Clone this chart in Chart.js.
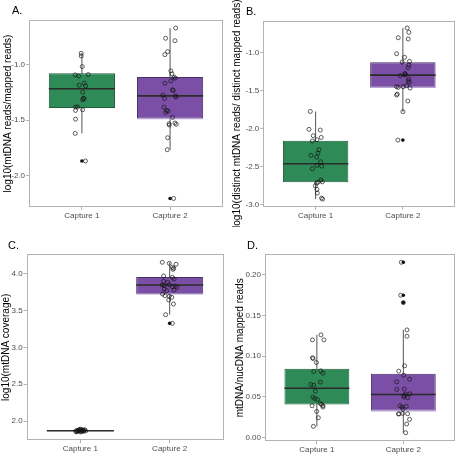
<!DOCTYPE html>
<html>
<head>
<meta charset="utf-8">
<script src="https://cdn.jsdelivr.net/npm/chart.js@4.4.0/dist/chart.umd.min.js"></script>
<style>
  body { margin: 0; background: #fff; }
  #wrap { position: relative; width: 460px; height: 454px; }
  canvas { position: absolute; }
</style>
</head>
<body>
<div id="wrap">
  <canvas id="cA" width="230" height="227" style="left:0;top:0"></canvas>
  <canvas id="cB" width="230" height="227" style="left:230px;top:0"></canvas>
  <canvas id="cC" width="230" height="227" style="left:0;top:227px"></canvas>
  <canvas id="cD" width="230" height="227" style="left:230px;top:227px"></canvas>
</div>
<script>
const categories = ["Capture 1", "Capture 2"];

// A. log10(mtDNA reads/mapped reads)
const aVals1 = [-0.895, -0.919, -1.015, -1.090, -1.100, -1.087, -1.183, -1.165, -1.190, -1.246, -1.300, -1.315, -1.306, -1.381, -1.411, -1.380, -1.405, -1.490, -1.619, -1.868];
const aJitter1 = [-0.008, -0.008, 0.004, -0.076, -0.038, 0.072, -0.030, 0.027, 0.042, 0.008, 0.019, 0.008, 0.023, -0.072, -0.072, -0.049, 0.008, -0.072, -0.076, 0.040];
const aVals2 = [-0.667, -0.759, -0.781, -0.880, -0.907, -1.054, -1.081, -1.111, -1.120, -1.165, -1.144, -1.225, -1.231, -1.273, -1.303, -1.279, -1.291, -1.381, -1.411, -1.417, -1.430, -1.474, -1.532, -1.543, -1.525, -1.537, -1.658, -1.766, -2.207];
const aJitter2 = [0.063, -0.051, 0.055, -0.028, -0.059, 0.009, 0.021, 0.047, 0.059, -0.059, 0.009, 0.028, 0.036, -0.081, -0.063, 0.063, 0.066, -0.070, -0.040, -0.025, -0.051, 0.028, -0.013, -0.009, 0.055, 0.070, -0.028, -0.032, 0.040];
// lower whisker, q1, median, q3, upper whisker
const aBox1 = [-1.619, -1.390, -1.216, -1.075, -0.895];
const aBox2 = [-1.766, -1.485, -1.280, -1.110, -0.667];
const aOutliers1 = [-1.868];
const aOutliers2 = [-2.207];
const aTicks = [-2.0, -1.5, -1.0];

// B. log10(distinct mtDNA reads/ distinct mapped reads)
const bVals1 = [-1.777, -2.013, -2.022, -2.097, -2.119, -2.167, -2.150, -2.280, -2.325, -2.356, -2.378, -2.439, -2.531, -2.487, -2.496, -2.680, -2.703, -2.707, -2.720, -2.755, -2.803, -2.851, -2.917, -2.930];
const bJitter1 = [-0.061, -0.076, 0.053, -0.027, 0.064, -0.038, 0.015, 0.038, 0.027, -0.053, 0.011, 0.057, -0.038, 0.015, 0.068, 0.061, 0.076, 0.027, 0.011, -0.004, 0.015, 0.019, 0.068, 0.080];
const bVals2 = [-0.680, -0.737, -0.808, -0.825, -1.018, -1.066, -1.128, -1.119, -1.167, -1.202, -1.277, -1.290, -1.307, -1.298, -1.351, -1.377, -1.395, -1.452, -1.461, -1.452, -1.439, -1.470, -1.549, -1.561, -1.640, -1.781, -2.154];
const bJitter2 = [0.049, 0.068, -0.053, 0.061, -0.072, 0.019, -0.008, 0.076, 0.068, 0.061, 0.023, 0.030, -0.030, 0.019, 0.068, 0.061, 0.076, -0.072, -0.053, 0.004, 0.042, 0.083, -0.064, -0.072, 0.057, 0.000, -0.057];
const bBox1 = [-2.930, -2.707, -2.466, -2.163, -1.777];
const bBox2 = [-1.781, -1.461, -1.300, -1.132, -0.680];
const bOutliers1 = [];
const bOutliers2 = [-2.154];
const bTicks = [-3.0, -2.5, -2.0, -1.5, -1.0];

// C. log10(mtDNA coverage)
const cVals1 = [1.860, 1.870, 1.880, 1.890, 1.875, 1.865, 1.882, 1.872, 1.886, 1.858, 1.876, 1.868, 1.879, 1.871, 1.893, 1.864, 1.874, 1.881, 1.855, 1.869];
const cJitter1 = [-0.05, -0.03, -0.02, -0.01, 0.00, 0.01, 0.02, 0.03, 0.05, -0.04, -0.015, 0.015, 0.04, -0.025, 0.005, 0.035, -0.045, 0.025, 0.0, 0.06];
const cVals2 = [4.149, 4.135, 4.122, 4.081, 4.068, 4.054, 3.964, 3.946, 3.923, 3.892, 3.878, 3.842, 3.833, 3.846, 3.819, 3.824, 3.811, 3.788, 3.765, 3.774, 3.720, 3.698, 3.689, 3.676, 3.639, 3.585, 3.441, 3.324];
const cJitter2 = [-0.083, -0.004, 0.072, 0.030, 0.045, 0.038, -0.068, 0.030, 0.049, -0.068, -0.023, -0.083, -0.061, -0.004, 0.030, 0.061, 0.083, -0.061, -0.034, 0.049, -0.080, -0.053, -0.004, 0.023, -0.011, 0.042, -0.045, 0.030];
const cBox1 = [1.855, 1.866, 1.872, 1.878, 1.893];
const cBox2 = [3.441, 3.722, 3.842, 3.950, 4.149];
const cOutliers1 = [];
const cOutliers2 = [3.324];
const cTicks = [2.0, 2.5, 3.0, 3.5, 4.0];

// D. mtDNA/nucDNA mapped reads
const dVals1 = [0.1261, 0.1200, 0.1200, 0.0980, 0.0971, 0.0922, 0.0812, 0.0820, 0.0792, 0.0653, 0.0645, 0.0682, 0.0571, 0.0498, 0.0481, 0.0469, 0.0420, 0.0408, 0.0392, 0.0376, 0.0392, 0.0322, 0.0245, 0.0139];
const dJitter1 = [0.047, -0.051, 0.081, -0.051, -0.044, -0.006, -0.036, 0.044, 0.070, -0.070, -0.036, 0.040, -0.017, -0.047, -0.025, 0.006, 0.040, 0.055, 0.070, 0.070, -0.055, -0.002, 0.017, -0.040];
const dVals2 = [0.2151, 0.1747, 0.1657, 0.1322, 0.1245, 0.0882, 0.0816, 0.0767, 0.0718, 0.0686, 0.0596, 0.0592, 0.0539, 0.0535, 0.0518, 0.0498, 0.0490, 0.0392, 0.0376, 0.0384, 0.0351, 0.0294, 0.0298, 0.0294, 0.0290, 0.0225, 0.0168, 0.0061];
const dJitter2 = [-0.023, -0.030, 0.000, 0.042, 0.042, 0.015, -0.053, 0.004, 0.072, -0.076, 0.011, -0.076, 0.076, 0.027, 0.008, 0.008, 0.049, -0.038, -0.015, 0.034, -0.004, -0.049, -0.008, 0.049, -0.057, 0.072, 0.038, 0.027];
const dBox1 = [0.0139, 0.0408, 0.0606, 0.0845, 0.1261];
const dBox2 = [0.0061, 0.0331, 0.0530, 0.0784, 0.1322];
const dOutliers1 = [];
const dOutliers2 = [0.2151, 0.1747, 0.1657];
const dTicks = [0, 0.05, 0.10, 0.15, 0.20];

Chart.defaults.font.family = "'Liberation Sans', Arial, sans-serif";

const boxFill = ["#2e8b57", "#7b4fa6"];
const boxEdge = ["#1f5c3a", "#4a2e68"];
const HALF = 0.375; // half box width in category units

// panel frame + letter
const panelDeco = {
  id: "panelDeco",
  afterDatasetsDraw(chart, args, opts) {
    const a = chart.chartArea;
    const ctx = chart.ctx;
    ctx.save();
    ctx.strokeStyle = "#b3b3b3";
    ctx.lineWidth = 1;
    ctx.strokeRect(Math.round(a.left) + 0.5, Math.round(a.top) + 0.5,
      Math.round(a.right - a.left) - 1, Math.round(a.bottom - a.top) - 1);
    ctx.fillStyle = "#000";
    ctx.font = "11px 'Liberation Sans', Arial, sans-serif";
    ctx.textBaseline = "alphabetic";
    ctx.fillText(opts.text, opts.x, opts.y);
    ctx.restore();
  }
};

function buildDatasets(boxes, vals, jitters, outliers) {
  let ds = [];
  boxes.forEach((b, i) => {
    const x = i + 1;
    ds.push({ type: "line", data: [{x: x, y: b[0]}, {x: x, y: b[4]}],
      borderColor: "#555555", borderWidth: 1, pointRadius: 0, order: 6 });
    ds.push({ type: "line", data: [{x: x - HALF, y: b[2]}, {x: x + HALF, y: b[2]}],
      borderColor: "#2b2b2b", borderWidth: 1.6, pointRadius: 0, order: 3 });
    if (i == 1) {
      ds.push({ type: "line", data: [{x: x - HALF, y: b[1]}, {x: x + HALF, y: b[1]}],
        borderColor: "#b7a3d3", borderWidth: 1.4, pointRadius: 0, order: 4 });
    }
    ds.push({ type: "scatter", data: outliers[i].map(v => ({x: x, y: v})),
      pointRadius: 1.8, backgroundColor: "#111", borderWidth: 0, order: 2 });
    ds.push({ type: "scatter", data: vals[i].map((v, k) => ({x: x + jitters[i][k], y: v})),
      pointRadius: 2, borderColor: "rgba(20,20,20,0.85)", borderWidth: 0.8,
      backgroundColor: "rgba(0,0,0,0)", order: 1 });
  });
  ds.push({ type: "bar", data: boxes.map((b, i) => ({x: i + 1, y: [b[1], b[3]]})),
    backgroundColor: boxFill, borderColor: boxEdge, borderWidth: 1,
    borderSkipped: false, categoryPercentage: 0.75, barPercentage: 1,
    grouped: false, order: 5 });
  return ds;
}

function makePanel(id, p) {
  new Chart(document.getElementById(id), {
    type: "scatter",
    data: { datasets: buildDatasets(p.boxes, p.vals, p.jitters, p.outliers) },
    options: {
      responsive: false,
      animation: false,
      devicePixelRatio: 1,
      layout: { padding: { top: p.top, right: p.right, left: 0, bottom: 0 } },
      plugins: {
        legend: { display: false },
        tooltip: { enabled: false },
        panelDeco: { text: p.letter, x: p.lx, y: p.ly }
      },
      scales: {
        x: {
          type: "linear", min: 0.4, max: 2.6, offset: false,
          afterBuildTicks: s => { s.ticks = [{value: 1}, {value: 2}]; },
          afterFit: s => { s.height = p.xh; },
          ticks: { callback: v => categories[v - 1], color: "#4d4d4d",
            font: { size: 8 }, padding: 1, maxRotation: 0 },
          grid: { offset: false, drawOnChartArea: false, drawTicks: true, tickLength: 3, tickColor: "#b3b3b3" },
          border: { display: false }
        },
        y: {
          min: p.range[0], max: p.range[1],
          afterBuildTicks: s => { s.ticks = p.ticks.map(v => ({value: v})); },
          afterFit: s => { s.width = p.yw; },
          ticks: { callback: v => v.toFixed(p.dec), color: "#4d4d4d",
            font: { size: 8 }, padding: 1 },
          grid: { drawOnChartArea: false, drawTicks: true, tickLength: 3, tickColor: "#b3b3b3" },
          border: { display: false },
          title: { display: true, text: p.title, color: "#000",
            font: { size: 10 }, padding: { top: p.tpad, bottom: 0 } }
        }
      }
    },
    plugins: [panelDeco]
  });
}

makePanel("cA", {
  boxes: [aBox1, aBox2], vals: [aVals1, aVals2], jitters: [aJitter1, aJitter2],
  outliers: [aOutliers1, aOutliers2], ticks: aTicks, range: [-2.284, -0.594], dec: 1,
  title: "log10(mtDNA reads/mapped reads)", letter: "A.", lx: 12, ly: 14,
  top: 20, right: 7, yw: 29, xh: 20, tpad: 2
});
makePanel("cB", {
  boxes: [bBox1, bBox2], vals: [bVals1, bVals2], jitters: [bJitter1, bJitter2],
  outliers: [bOutliers1, bOutliers2], ticks: bTicks, range: [-3.03, -0.584], dec: 1,
  title: "log10(distinct mtDNA reads/ distinct mapped reads)", letter: "B.", lx: 16, ly: 15,
  top: 20.7, right: 3.3, yw: 33.3, xh: 20.3, tpad: 1
});
makePanel("cC", {
  boxes: [cBox1, cBox2], vals: [cVals1, cVals2], jitters: [cJitter1, cJitter2],
  outliers: [cOutliers1, cOutliers2], ticks: cTicks, range: [1.743, 4.257], dec: 1,
  title: "log10(mtDNA coverage)", letter: "C.", lx: 8, ly: 22,
  top: 27.3, right: 6.7, yw: 26.7, xh: 13.7, tpad: 0
});
makePanel("cD", {
  boxes: [dBox1, dBox2], vals: [dVals1, dVals2], jitters: [dJitter1, dJitter2],
  outliers: [dOutliers1, dOutliers2], ticks: dTicks, range: [-0.0044, 0.2249], dec: 2,
  title: "mtDNA/nucDNA mapped reads", letter: "D.", lx: 17, ly: 22,
  top: 27.3, right: 2.3, yw: 35, xh: 12.7, tpad: 4
});
</script>
</body>
</html>
